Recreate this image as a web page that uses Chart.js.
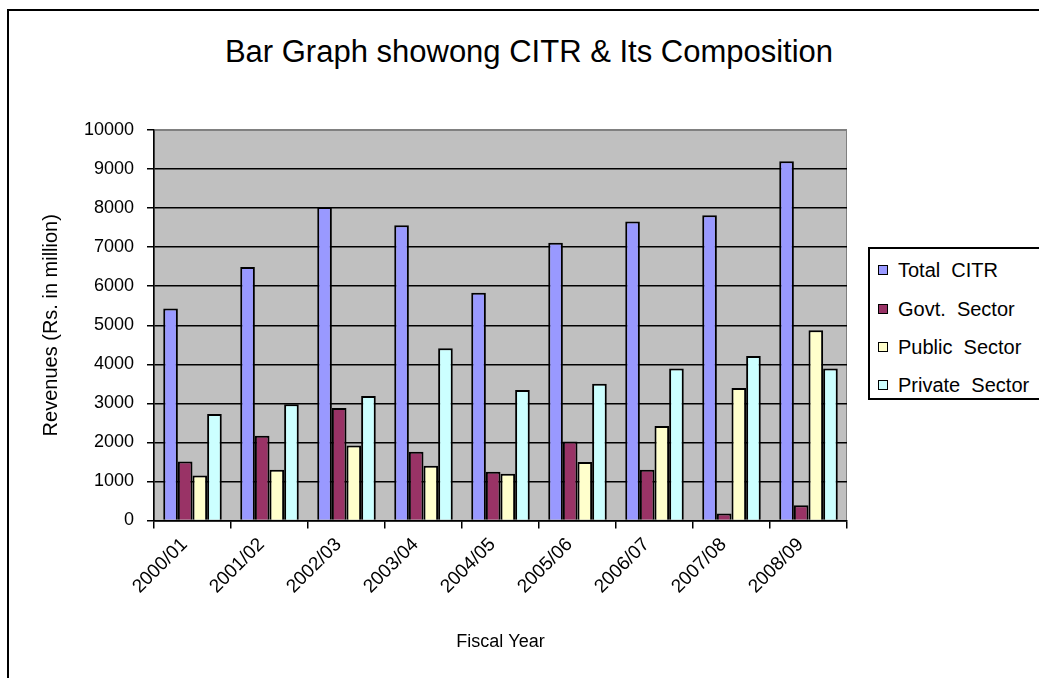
<!DOCTYPE html>
<html>
<head>
<meta charset="utf-8">
<title>CITR bar graph</title>
<script src="https://cdn.jsdelivr.net/npm/chart.js@4.4.0/dist/chart.umd.min.js"></script>
<style>
  html, body { margin: 0; padding: 0; background: #fff; overflow: hidden; }
  #wrap { position: relative; width: 1039px; height: 678px; overflow: hidden; font-family: 'Liberation Sans', Arial, sans-serif; }
  #frame { position: absolute; left: 7px; top: 9px; width: 1060px; height: 720px; border: 2px solid #000; box-sizing: border-box; }
  #title { position: absolute; left: 19px; width: 1020px; top: 36px; text-align: center; font-size: 31px; line-height: 31px; color: #000; white-space: pre; }
  #citr { position: absolute; left: 0; top: 0; }
  #legend { position: absolute; left: 868px; top: 247px; width: 180px; height: 153px; border: 2px solid #000; box-sizing: border-box; background: #fff; }
  #legend .item { position: absolute; left: 8px; height: 20px; line-height: 20px; font-size: 20px; white-space: pre; color: #000; }
  #legend .sw { position: absolute; left: 0; top: 5px; width: 10px; height: 10px; border: 1px solid #000; box-sizing: border-box; }
  #legend .txt { position: absolute; left: 20px; top: 0; }
</style>
</head>
<body>
<div id="wrap">
  <div id="frame"></div>
  <div id="title">Bar Graph showong CITR &amp; Its Composition</div>
  <canvas id="citr" width="1039" height="678"></canvas>
  <div id="legend"></div>
</div>
<script>
// fiscal years on the x axis
const years = ['2000/01', '2001/02', '2002/03', '2003/04', '2004/05', '2005/06', '2006/07', '2007/08', '2008/09']

// revenues, Rs. in million
const totalCITR = [5430, 6490, 8030, 7560, 5830, 7110, 7660, 7820, 9200]
const govtSector = [1510, 2170, 2880, 1760, 1250, 2020, 1300, 180, 390]
const publicSector = [1150, 1300, 1920, 1400, 1200, 1500, 2420, 3390, 4870]
const privateSector = [2730, 2980, 3190, 4410, 3340, 3500, 3890, 4210, 3890]

const seriesNames = ['Total  CITR', 'Govt.  Sector', 'Public  Sector', 'Private  Sector']
const seriesColors = ['#9999ff', '#993366', '#ffffcc', '#ccffff']

const yTicks = [0, 1000, 2000, 3000, 4000, 5000, 6000, 7000, 8000, 9000, 10000]

const font = "'Liberation Sans', Arial, sans-serif"

// grey plot area like the excel chart
const plotBg = {
    id: 'plotBg',
    beforeDraw(chart) {
        const { ctx, chartArea: a } = chart
        ctx.save()
        ctx.fillStyle = '#c0c0c0'
        ctx.fillRect(a.left, a.top, a.right - a.left, a.bottom - a.top)
        ctx.strokeStyle = '#808080'
        ctx.lineWidth = 1
        ctx.strokeRect(a.left + 0.5, a.top + 0.5, a.right - a.left - 1, a.bottom - a.top)
        ctx.restore()
    }
}

const values = [totalCITR, govtSector, publicSector, privateSector]
const datasets = values.map((v, i) => ({
    label: seriesNames[i],
    data: v,
    backgroundColor: seriesColors[i],
    borderColor: '#000',
    borderWidth: 2,
    categoryPercentage: 0.76,
    barPercentage: 1
}))

const ctx = document.querySelector('#citr')
const citrChart = new Chart(ctx, {
    type: 'bar',
    data: { labels: years, datasets: datasets },
    options: {
        responsive: false,
        animation: false,
        layout: { padding: { top: 130, left: 19, right: 192, bottom: 0 } },
        plugins: {
            legend: { display: false },
            title: { display: false },
            tooltip: { enabled: false }
        },
        scales: {
            x: {
                offset: true,
                grid: { display: true, offset: true, drawOnChartArea: false, drawTicks: true, tickLength: 8, color: '#000', lineWidth: 1.5 },
                border: { display: true, color: '#000', width: 1.5 },
                ticks: {
                    autoSkip: false, minRotation: 45, maxRotation: 45, padding: 5, labelOffset: -8,
                    color: '#000', font: { family: font, size: 19 }
                },
                title: { display: true, text: 'Fiscal Year', color: '#000', font: { family: font, size: 18 }, padding: { top: 0, bottom: 25 } },
                afterFit(scale) { scale.height = 157.5 }
            },
            y: {
                min: 0,
                max: 10000,
                afterBuildTicks(scale) { scale.ticks = yTicks.map(v => ({ value: v })) },
                grid: {
                    color: c => (c.tick && c.tick.value === 10000 ? '#808080' : '#000'),
                    tickColor: '#000', lineWidth: 1.5, drawTicks: true, tickLength: 7
                },
                border: { display: true, color: '#000', width: 1.5 },
                ticks: { padding: 13, color: '#000', font: { family: font, size: 18 }, callback: v => String(v) },
                title: { display: true, text: 'Revenues (Rs. in million)', color: '#000', font: { family: font, size: 20 }, padding: { top: 20, bottom: 0 } },
                afterFit(scale) { scale.width = 135 }
            }
        }
    },
    plugins: [plotBg]
})

// html legend, built from the dataset names/colours
const legend = document.querySelector('#legend')
const rowTops = [11, 50, 88, 126]
seriesNames.forEach((name, i) => {
    const item = document.createElement('div')
    item.className = 'item'
    item.style.top = rowTops[i] + 'px'
    item.innerHTML = '<span class="sw" style="background:' + seriesColors[i] + '"></span><span class="txt"></span>'
    item.querySelector('.txt').textContent = name
    legend.appendChild(item)
})
</script>
</body>
</html>
